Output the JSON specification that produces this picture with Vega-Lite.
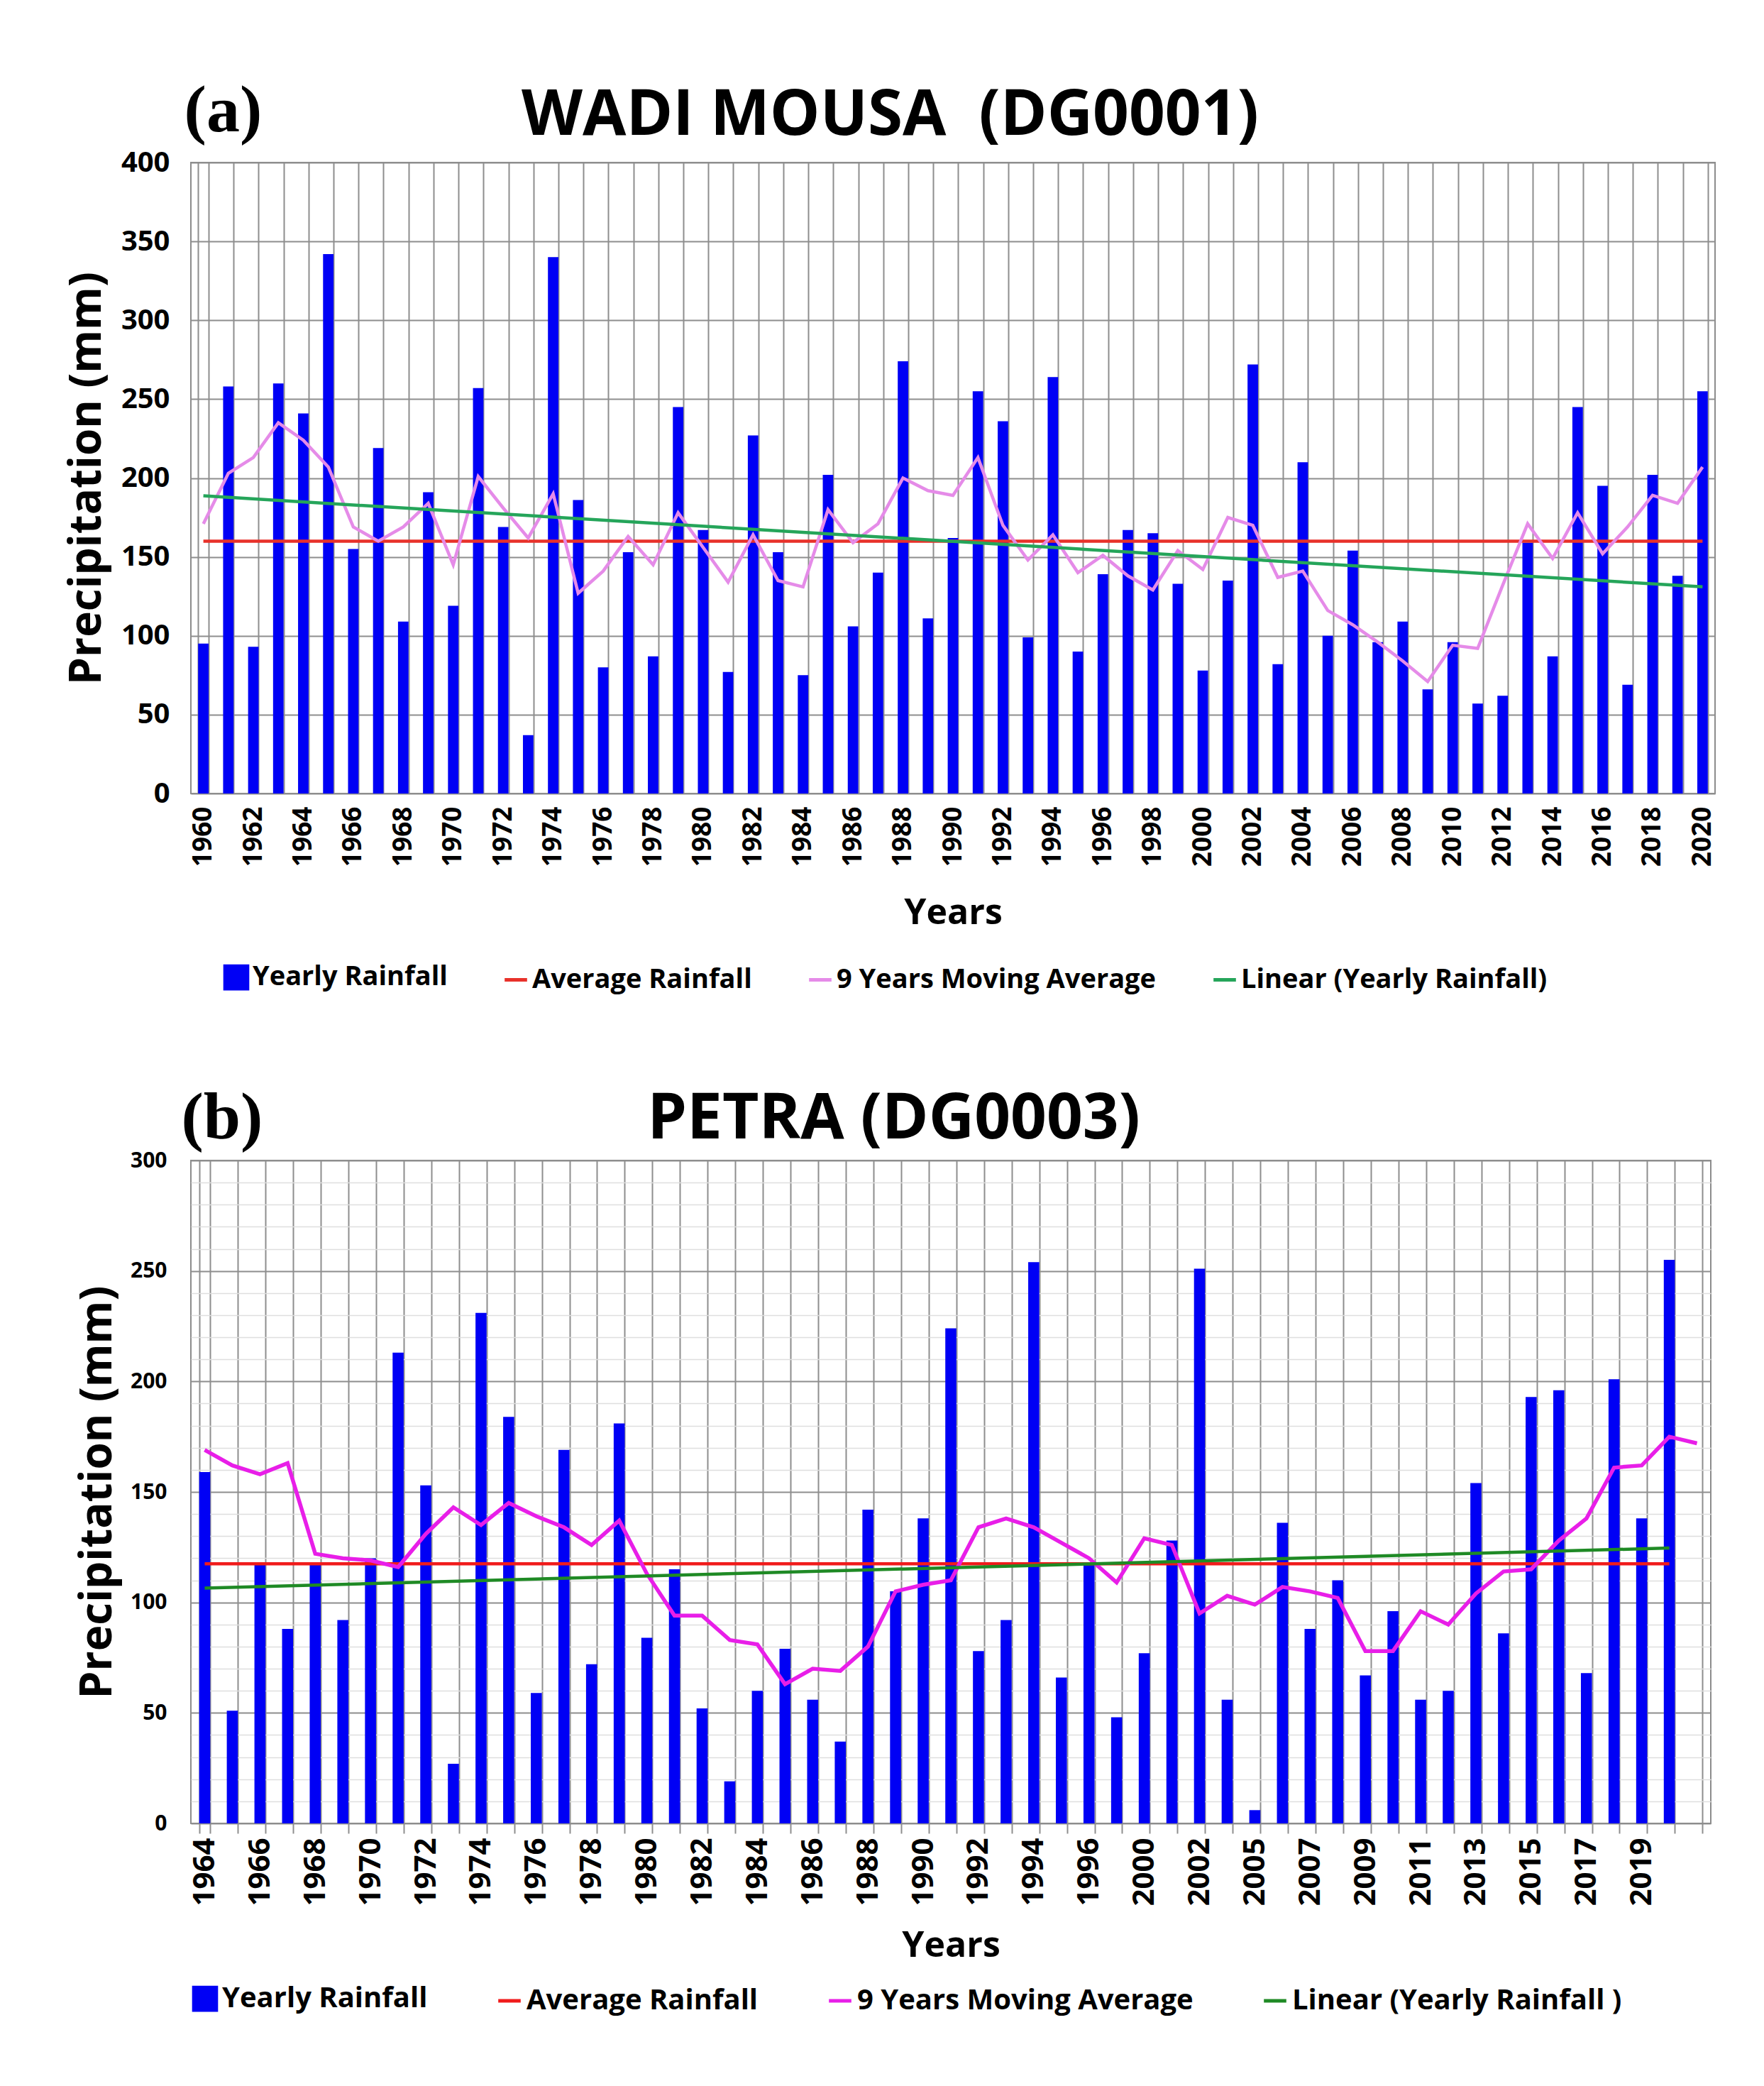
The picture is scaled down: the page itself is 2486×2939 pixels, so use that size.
{
  "$schema": "https://vega.github.io/schema/vega-lite/v6.json",
  "background": "white",
  "padding": {"left": 90, "top": 108, "right": 40, "bottom": 20},
  "spacing": 78,
  "config": {
    "font": "Open Sans",
    "view": {"stroke": "#8c8c8c", "strokeWidth": 2},
    "axis": {
      "labelFont": "Open Sans", "labelFontWeight": "bold", "labelColor": "#000",
      "titleFont": "Open Sans", "titleFontWeight": "bold", "titleColor": "#000",
      "gridColor": "#8e8e8e", "gridWidth": 2, "gridOpacity": 1,
      "domain": false, "ticks": false
    },
    "title": {"font": "Open Sans", "fontWeight": "bold", "fontSize": 89, "color": "#000", "anchor": "middle", "frame": "bounds"},
    "legend": {"layout": {"bottom": {"anchor": "start"}}}
  },
  "datasets": {
    "a": [
      {"year": 1960, "rain": 95, "ma": 171}, {"year": 1961, "rain": 258, "ma": 203},
      {"year": 1962, "rain": 93, "ma": 213}, {"year": 1963, "rain": 260, "ma": 235},
      {"year": 1964, "rain": 241, "ma": 224}, {"year": 1965, "rain": 342, "ma": 207},
      {"year": 1966, "rain": 155, "ma": 169}, {"year": 1967, "rain": 219, "ma": 160},
      {"year": 1968, "rain": 109, "ma": 169}, {"year": 1969, "rain": 191, "ma": 184},
      {"year": 1970, "rain": 119, "ma": 145}, {"year": 1971, "rain": 257, "ma": 201},
      {"year": 1972, "rain": 169, "ma": 181}, {"year": 1973, "rain": 37, "ma": 162},
      {"year": 1974, "rain": 340, "ma": 190}, {"year": 1975, "rain": 186, "ma": 127},
      {"year": 1976, "rain": 80, "ma": 141}, {"year": 1977, "rain": 153, "ma": 163},
      {"year": 1978, "rain": 87, "ma": 145}, {"year": 1979, "rain": 245, "ma": 178},
      {"year": 1980, "rain": 167, "ma": 156}, {"year": 1981, "rain": 77, "ma": 134},
      {"year": 1982, "rain": 227, "ma": 164}, {"year": 1983, "rain": 153, "ma": 135},
      {"year": 1984, "rain": 75, "ma": 131}, {"year": 1985, "rain": 202, "ma": 180},
      {"year": 1986, "rain": 106, "ma": 159}, {"year": 1987, "rain": 140, "ma": 171},
      {"year": 1988, "rain": 274, "ma": 200}, {"year": 1989, "rain": 111, "ma": 192},
      {"year": 1990, "rain": 162, "ma": 189}, {"year": 1991, "rain": 255, "ma": 213},
      {"year": 1992, "rain": 236, "ma": 170}, {"year": 1993, "rain": 99, "ma": 148},
      {"year": 1994, "rain": 264, "ma": 164}, {"year": 1995, "rain": 90, "ma": 140},
      {"year": 1996, "rain": 139, "ma": 151}, {"year": 1997, "rain": 167, "ma": 138},
      {"year": 1998, "rain": 165, "ma": 129}, {"year": 1999, "rain": 133, "ma": 154},
      {"year": 2000, "rain": 78, "ma": 142}, {"year": 2001, "rain": 135, "ma": 175},
      {"year": 2002, "rain": 272, "ma": 170}, {"year": 2003, "rain": 82, "ma": 137},
      {"year": 2004, "rain": 210, "ma": 141}, {"year": 2005, "rain": 100, "ma": 116},
      {"year": 2006, "rain": 154, "ma": 107}, {"year": 2007, "rain": 96, "ma": 96},
      {"year": 2008, "rain": 109, "ma": 84}, {"year": 2009, "rain": 66, "ma": 71},
      {"year": 2010, "rain": 96, "ma": 94}, {"year": 2011, "rain": 57, "ma": 92},
      {"year": 2012, "rain": 62, "ma": 132}, {"year": 2013, "rain": 159, "ma": 171},
      {"year": 2014, "rain": 87, "ma": 149}, {"year": 2015, "rain": 245, "ma": 178},
      {"year": 2016, "rain": 195, "ma": 152}, {"year": 2017, "rain": 69, "ma": 169},
      {"year": 2018, "rain": 202, "ma": 189}, {"year": 2019, "rain": 138, "ma": 184},
      {"year": 2020, "rain": 255, "ma": 207}
    ],
    "a_ref": [
      {"year": 1960, "avg": 160, "trend": 188.7},
      {"year": 2020, "avg": 160, "trend": 131}
    ],
    "b": [
      {"year": 1964, "rain": 159, "ma": 169}, {"year": 1965, "rain": 51, "ma": 162},
      {"year": 1966, "rain": 117, "ma": 158}, {"year": 1967, "rain": 88, "ma": 163},
      {"year": 1968, "rain": 117, "ma": 122}, {"year": 1969, "rain": 92, "ma": 120},
      {"year": 1970, "rain": 120, "ma": 119}, {"year": 1971, "rain": 213, "ma": 116},
      {"year": 1972, "rain": 153, "ma": 131}, {"year": 1973, "rain": 27, "ma": 143},
      {"year": 1974, "rain": 231, "ma": 135}, {"year": 1975, "rain": 184, "ma": 145},
      {"year": 1976, "rain": 59, "ma": 139}, {"year": 1977, "rain": 169, "ma": 134},
      {"year": 1978, "rain": 72, "ma": 126}, {"year": 1979, "rain": 181, "ma": 137},
      {"year": 1980, "rain": 84, "ma": 113}, {"year": 1981, "rain": 115, "ma": 94},
      {"year": 1982, "rain": 52, "ma": 94}, {"year": 1983, "rain": 19, "ma": 83},
      {"year": 1984, "rain": 60, "ma": 81}, {"year": 1985, "rain": 79, "ma": 63},
      {"year": 1986, "rain": 56, "ma": 70}, {"year": 1987, "rain": 37, "ma": 69},
      {"year": 1988, "rain": 142, "ma": 80}, {"year": 1989, "rain": 105, "ma": 105},
      {"year": 1990, "rain": 138, "ma": 108}, {"year": 1991, "rain": 224, "ma": 110},
      {"year": 1992, "rain": 78, "ma": 134}, {"year": 1993, "rain": 92, "ma": 138},
      {"year": 1994, "rain": 254, "ma": 134}, {"year": 1995, "rain": 66, "ma": 127},
      {"year": 1996, "rain": 117, "ma": 120}, {"year": 1998, "rain": 48, "ma": 109},
      {"year": 2000, "rain": 77, "ma": 129}, {"year": 2001, "rain": 128, "ma": 126},
      {"year": 2002, "rain": 251, "ma": 95}, {"year": 2003, "rain": 56, "ma": 103},
      {"year": 2005, "rain": 6, "ma": 99}, {"year": 2006, "rain": 136, "ma": 107},
      {"year": 2007, "rain": 88, "ma": 105}, {"year": 2008, "rain": 110, "ma": 102},
      {"year": 2009, "rain": 67, "ma": 78}, {"year": 2010, "rain": 96, "ma": 78},
      {"year": 2011, "rain": 56, "ma": 96}, {"year": 2012, "rain": 60, "ma": 90},
      {"year": 2013, "rain": 154, "ma": 104}, {"year": 2014, "rain": 86, "ma": 114},
      {"year": 2015, "rain": 193, "ma": 115}, {"year": 2016, "rain": 196, "ma": 128},
      {"year": 2017, "rain": 68, "ma": 138}, {"year": 2018, "rain": 201, "ma": 161},
      {"year": 2019, "rain": 138, "ma": 162}, {"year": 2020, "rain": 255, "ma": 175},
      {"year": 2021, "rain": null, "ma": 172}
    ],
    "b_ref": [
      {"year": 1964, "avg": 117.5, "trend": 106.5},
      {"year": 2020, "avg": 117.5, "trend": 124.6}
    ]
  },
  "resolve": {"scale": {"x": "independent", "y": "independent", "color": "independent"}},
  "vconcat": [
    {
      "width": 2148,
      "height": 889,
      "title": {"text": "WADI MOUSA \u00a0(DG0001)", "offset": -99},
      "layer": [
        {
          "data": {"name": "a"},
          "mark": {"type": "bar", "color": "#0000f5"},
          "encoding": {
            "x": {
              "field": "year", "type": "ordinal",
              "scale": {"paddingInner": 0.58, "paddingOuter": 0.29},
              "axis": {
                "grid": true, "tickBand": "extent", "labelAngle": -90, "labelFontSize": 37,
                "labelPadding": 18, "labelOverlap": false,
                "labelExpr": "datum.value % 2 == 0 ? datum.label : ''",
                "title": "Years", "titleFontSize": 50, "titlePadding": 41
              }
            },
            "y": {
              "field": "rain", "type": "quantitative",
              "scale": {"domain": [0, 400], "nice": false},
              "axis": {
                "values": [0, 50, 100, 150, 200, 250, 300, 350, 400],
                "labelFontSize": 40, "labelPadding": 30,
                "title": "Precipitation (mm)", "titleFontSize": 62, "titlePadding": 16
              }
            },
            "color": {
              "datum": "Yearly Rainfall", "type": "nominal",
              "scale": {
                "domain": ["Yearly Rainfall", "Average Rainfall", "9 Years Moving Average", "Linear (Yearly Rainfall)"],
                "range": ["#0000f5", "#e8312a", "#e58be8", "#25a55a"]
              },
              "legend": {
                "orient": "bottom", "direction": "horizontal", "columns": 4, "title": null,
                "labelFont": "Open Sans", "labelFontWeight": "bold", "labelFontSize": 38, "labelColor": "#000",
                "labelLimit": 1000, "labelOffset": 4, "columnPadding": 70, "offset": 1, "padding": 45,
                "symbolSize": 1000, "symbolStrokeWidth": 5,
                "encode": {
                  "symbols": {
                    "update": {
                      "shape": {"signal": "datum.value === 'Yearly Rainfall' ? 'square' : 'stroke'"},
                      "fill": {"signal": "datum.value === 'Yearly Rainfall' ? '#0000f5' : 'transparent'"},
                      "stroke": {"signal": "datum.value === 'Yearly Rainfall' ? '#0000f5' : datum.value === 'Average Rainfall' ? '#e8312a' : datum.value === '9 Years Moving Average' ? '#e58be8' : '#25a55a'"},
                      "opacity": {"value": 1}
                    }
                  }
                }
              }
            }
          }
        },
        {
          "data": {"name": "a_ref"},
          "mark": {"type": "line", "strokeWidth": 4.5},
          "encoding": {
            "x": {"field": "year", "type": "ordinal"},
            "y": {"field": "avg", "type": "quantitative"},
            "color": {"datum": "Average Rainfall", "type": "nominal"}
          }
        },
        {
          "data": {"name": "a"},
          "mark": {"type": "line", "strokeWidth": 4.5},
          "encoding": {
            "x": {"field": "year", "type": "ordinal"},
            "y": {"field": "ma", "type": "quantitative"},
            "color": {"datum": "9 Years Moving Average", "type": "nominal"}
          }
        },
        {
          "data": {"name": "a_ref"},
          "mark": {"type": "line", "strokeWidth": 4.5},
          "encoding": {
            "x": {"field": "year", "type": "ordinal"},
            "y": {"field": "trend", "type": "quantitative"},
            "color": {"datum": "Linear (Yearly Rainfall)", "type": "nominal"}
          }
        },
        {
          "data": {"values": [{"label": "(a)"}]},
          "mark": {"type": "text", "font": "Liberation Serif", "fontWeight": "bold", "fontSize": 94, "align": "left", "baseline": "alphabetic", "dx": -27, "color": "#000"},
          "encoding": {
            "x": {"datum": 1960, "type": "ordinal"},
            "y": {"datum": 420, "type": "quantitative"},
            "text": {"field": "label"}
          }
        }
      ]
    },
    {
      "width": 2142,
      "height": 934,
      "title": {"text": "PETRA (DG0003)", "offset": -94},
      "resolve": {"axis": {"y": "independent"}},
      "layer": [
        {
          "data": {"name": "b"},
          "mark": {"type": "bar", "color": "#0000f5"},
          "encoding": {
            "x": {
              "field": "year", "type": "ordinal",
              "scale": {"paddingInner": 0.6, "paddingOuter": 0.3},
              "axis": {
                "grid": true, "tickBand": "extent", "ticks": true, "tickSize": 14, "tickColor": "#8e8e8e", "tickWidth": 2,
                "labelAngle": -90, "labelFontSize": 42, "labelPadding": 6, "labelOverlap": false,
                "labelExpr": "indexof([1964,1966,1968,1970,1972,1974,1976,1978,1980,1982,1984,1986,1988,1990,1992,1994,1996,2000,2002,2005,2007,2009,2011,2013,2015,2017,2019], datum.value) >= 0 ? datum.label : ''",
                "title": "Years", "titleFontSize": 50, "titlePadding": 31
              }
            },
            "y": {
              "field": "rain", "type": "quantitative",
              "scale": {"domain": [0, 300], "nice": false},
              "axis": {
                "values": [0, 50, 100, 150, 200, 250, 300],
                "labelFontSize": 30, "labelPadding": 34,
                "title": "Precipitation (mm)", "titleFontSize": 62, "titlePadding": 14
              }
            },
            "color": {
              "datum": "Yearly Rainfall", "type": "nominal",
              "scale": {
                "domain": ["Yearly Rainfall", "Average Rainfall", "9 Years Moving Average", "Linear (Yearly Rainfall )"],
                "range": ["#0000f5", "#f01c1c", "#e81ee8", "#1f8a25"]
              },
              "legend": {
                "orient": "bottom", "direction": "horizontal", "columns": 4, "title": null,
                "labelFont": "Open Sans", "labelFontWeight": "bold", "labelFontSize": 40, "labelColor": "#000",
                "labelLimit": 1000, "labelOffset": 4, "columnPadding": 89, "offset": 29,
                "symbolSize": 1000, "symbolStrokeWidth": 5,
                "encode": {
                  "symbols": {
                    "update": {
                      "shape": {"signal": "datum.value === 'Yearly Rainfall' ? 'square' : 'stroke'"},
                      "fill": {"signal": "datum.value === 'Yearly Rainfall' ? '#0000f5' : 'transparent'"},
                      "stroke": {"signal": "datum.value === 'Yearly Rainfall' ? '#0000f5' : datum.value === 'Average Rainfall' ? '#f01c1c' : datum.value === '9 Years Moving Average' ? '#e81ee8' : '#1f8a25'"},
                      "opacity": {"value": 1}
                    }
                  }
                }
              }
            }
          }
        },
        {
          "data": {"name": "b_ref"},
          "mark": {"type": "line", "strokeWidth": 4.5},
          "encoding": {
            "x": {"field": "year", "type": "ordinal"},
            "y": {
              "field": "avg", "type": "quantitative",
              "axis": {
                "orient": "right", "grid": true, "gridColor": "#dedede", "gridWidth": 1.5,
                "values": [10, 20, 30, 40, 60, 70, 80, 90, 110, 120, 130, 140, 160, 170, 180, 190, 210, 220, 230, 240, 260, 270, 280, 290],
                "labels": false, "ticks": false, "domain": false, "title": null
              }
            },
            "color": {"datum": "Average Rainfall", "type": "nominal"}
          }
        },
        {
          "data": {"name": "b"},
          "mark": {"type": "line", "strokeWidth": 5.5},
          "encoding": {
            "x": {"field": "year", "type": "ordinal"},
            "y": {"field": "ma", "type": "quantitative", "axis": null},
            "color": {"datum": "9 Years Moving Average", "type": "nominal"}
          }
        },
        {
          "data": {"name": "b_ref"},
          "mark": {"type": "line", "strokeWidth": 4.5},
          "encoding": {
            "x": {"field": "year", "type": "ordinal"},
            "y": {"field": "trend", "type": "quantitative", "axis": null},
            "color": {"datum": "Linear (Yearly Rainfall )", "type": "nominal"}
          }
        },
        {
          "data": {"values": [{"label": "(b)"}]},
          "mark": {"type": "text", "font": "Liberation Serif", "fontWeight": "bold", "fontSize": 94, "align": "left", "baseline": "alphabetic", "dx": -33, "color": "#000"},
          "encoding": {
            "x": {"datum": 1964, "type": "ordinal"},
            "y": {"datum": 310, "type": "quantitative", "axis": null},
            "text": {"field": "label"}
          }
        }
      ]
    }
  ]
}
